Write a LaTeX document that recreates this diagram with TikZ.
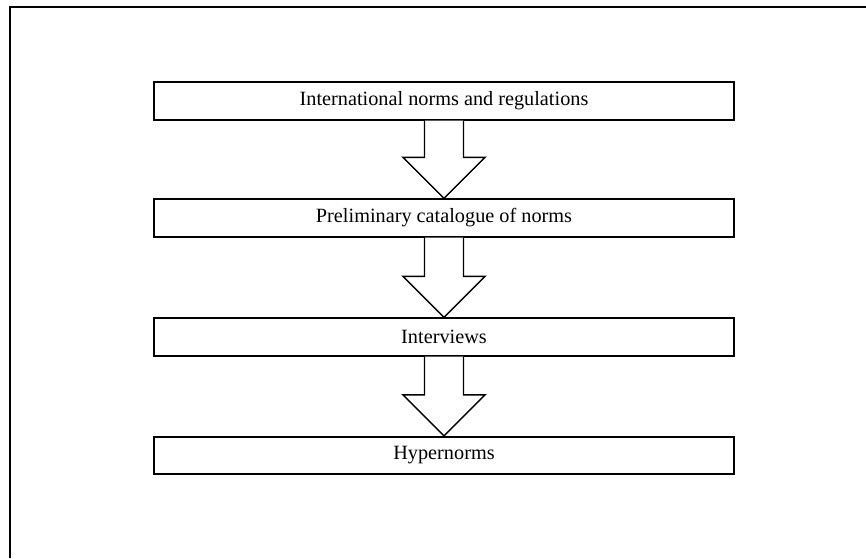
\documentclass[tikz,border=0pt]{standalone}
\usepackage{fontspec}
\setmainfont{Liberation Serif}
\usetikzlibrary{calc}
\begin{document}
\begin{tikzpicture}[x=0.75pt,y=-0.75pt,
  stagebox/.style={draw, line width=1.4pt, minimum width=435pt, minimum height=28pt, inner sep=0pt, font=\fontsize{15.2}{18}\selectfont},
  flowarrow/.style={draw, line width=1.1pt, fill=white, line join=miter}]
\useasboundingbox (0,0) rectangle (866,558);
\coordinate (fbl) at (10,558);
\coordinate (ftl) at (10,7);
\coordinate (ftr) at (866,7);
\draw[line width=2pt] (fbl) -- (ftl) -- (ftr);
\node[stagebox] (n1) at (444,101) {International norms and regulations};
\node[stagebox] (n2) at (444,218) {Preliminary catalogue of norms};
\node[stagebox] (n3) at (444,337) {Interviews};
\node[stagebox] (n4) at (444,455.5) {Hypernorms};
\foreach \a/\b in {n1/n2,n2/n3,n3/n4}{
  \draw[flowarrow] ($(\a.south)+(-19.5,0)$) -- ($(\b.north)+(-19.5,-41)$) -- ($(\b.north)+(-41,-41)$) -- (\b.north) -- ($(\b.north)+(41,-41)$) -- ($(\b.north)+(19.5,-41)$) -- ($(\a.south)+(19.5,0)$);
}
\end{tikzpicture}
\end{document}
